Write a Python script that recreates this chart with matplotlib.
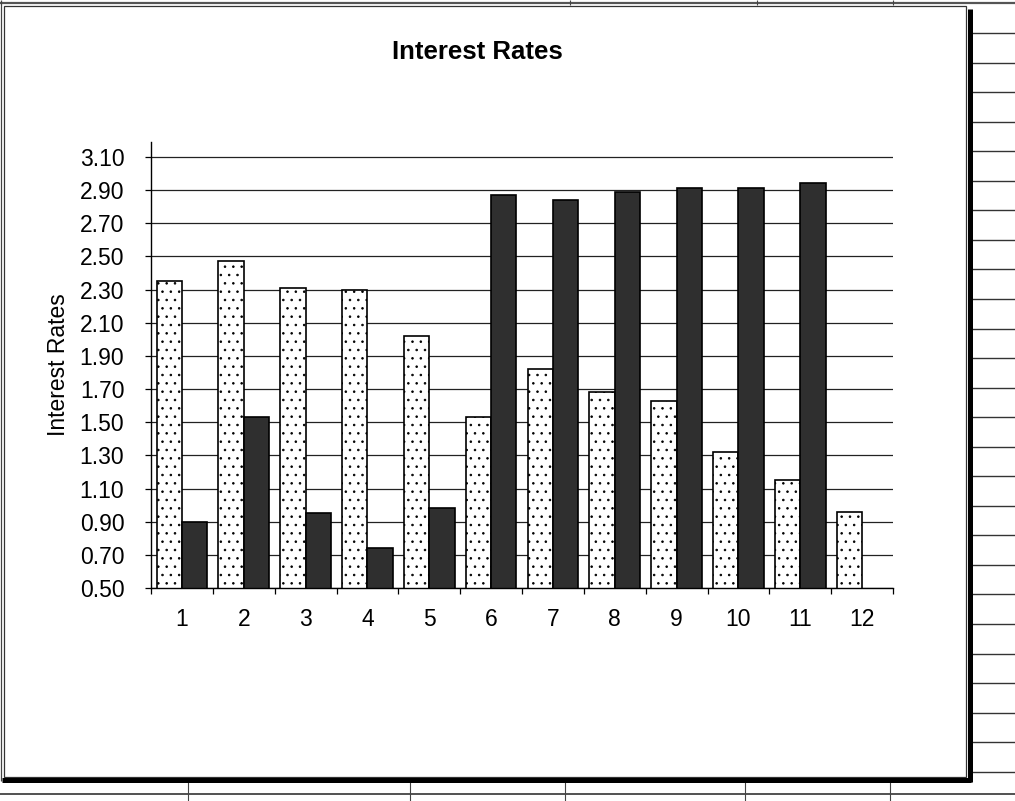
import numpy as np
import matplotlib
matplotlib.use("Agg")
import matplotlib.pyplot as plt
from matplotlib.patches import Rectangle
from matplotlib.lines import Line2D
from matplotlib.ticker import FixedLocator, NullFormatter, FixedFormatter

# ---- data -------------------------------------------------------------
months = list(range(1, 13))
month_labels = [str(m) for m in months]
rates_dotted = [2.35, 2.47, 2.31, 2.30, 2.02, 1.53, 1.82, 1.68, 1.63, 1.32, 1.15, 0.96]
rates_dark = [0.90, 1.53, 0.95, 0.74, 0.98, 2.87, 2.84, 2.89, 2.91, 2.91, 2.94, np.nan]
y_ticks = [0.50, 0.70, 0.90, 1.10, 1.30, 1.50, 1.70, 1.90, 2.10, 2.30, 2.50, 2.70, 2.90, 3.10]
y_tick_labels = [f"{v:.2f}" for v in y_ticks]
title = "Interest Rates"
y_title = "Interest Rates"

# ---- style ------------------------------------------------------------
plt.rcParams["font.family"] = ["Liberation Sans", "DejaVu Sans"]
plt.rcParams["hatch.linewidth"] = 0.6
plt.rcParams["hatch.color"] = "black"

W, H = 1015, 801
fig = plt.figure(figsize=(W / 100, H / 100), dpi=100)
fig.patch.set_facecolor("white")


def fx(px):
    return px / W


def fy(py):
    return 1 - py / H


def fig_line(x0, y0, x1, y1, lw=1.0, color="black"):
    fig.add_artist(Line2D([fx(x0), fx(x1)], [fy(y0), fy(y1)],
                          transform=fig.transFigure, lw=lw, color=color,
                          solid_capstyle="butt", zorder=1))


# ---- worksheet cells around the chart object --------------------------
fig_line(0, 3, W, 3, lw=1.6, color="#555555")
for x in (570, 757, 893):
    fig_line(x, 0, x, 5, lw=0.8, color="#444444")
for k in range(26):
    y = 33 + 29.55 * k
    fig_line(972, y, W, y, lw=1.0, color="#333333")
fig_line(0, 794, W, 794, lw=1.2, color="#333333")
for x in (188, 410, 565, 745, 890):
    fig_line(x, 782, x, H, lw=0.8, color="#444444")

# ---- chart area with drop shadow -------------------------------------
fig.add_artist(Rectangle((fx(4), fy(777)), fx(966) - fx(4), fy(6) - fy(777),
                         transform=fig.transFigure, facecolor="white",
                         edgecolor="#333333", lw=0.9, zorder=0.5))
fig_line(1, 0, 1, 781, lw=0.9, color="#444444")
fig_line(969.5, 9, 969.5, 782, lw=3.6, color="black")
fig_line(2, 780, 971, 780, lw=3.6, color="black")

# ---- plot ------------------------------------------------------------
ax = fig.add_axes([fx(151), fy(588), fx(893) - fx(151), fy(142) - fy(588)])
ax.set_zorder(3)
ax.set_facecolor("none")

x = np.arange(1, len(months) + 1)
bar_w = 0.41
ax.bar(x - bar_w / 2, rates_dotted, width=bar_w, facecolor="white",
       edgecolor="black", linewidth=1.2, hatch="..", zorder=2)
ax.bar(x + bar_w / 2, rates_dark, width=bar_w, facecolor="#2f2f2f",
       edgecolor="black", linewidth=1.2, zorder=2)

ax.set_xlim(0.5, len(months) + 0.5)
ax.set_ylim(0.50, 3.19)

ax.yaxis.set_major_locator(FixedLocator(y_ticks))
ax.yaxis.set_major_formatter(FixedFormatter(y_tick_labels))
ax.yaxis.grid(True, color="#222222", lw=0.9)
ax.set_axisbelow(True)

ax.xaxis.set_major_locator(FixedLocator(np.arange(0.5, len(months) + 1.0, 1.0)))
ax.xaxis.set_major_formatter(NullFormatter())
ax.xaxis.set_minor_locator(FixedLocator(x))
ax.xaxis.set_minor_formatter(FixedFormatter(month_labels))

ax.tick_params(axis="x", which="major", direction="out", length=4.5, width=0.9)
ax.tick_params(axis="x", which="minor", length=0, pad=14.5, labelsize=16.5)
ax.tick_params(axis="y", direction="out", length=4.2, width=0.9, pad=15,
               labelsize=16.5)

for side in ("top", "right"):
    ax.spines[side].set_visible(False)
for side in ("left", "bottom"):
    ax.spines[side].set_linewidth(1.0)
    ax.spines[side].set_color("black")

ax.set_ylabel(y_title, fontsize=16.5, labelpad=7)
fig.text(fx(477), fy(52), title, ha="center", va="center",
         fontsize=18.5, fontweight="bold", zorder=4)

fig.savefig("out.png", dpi=100)
